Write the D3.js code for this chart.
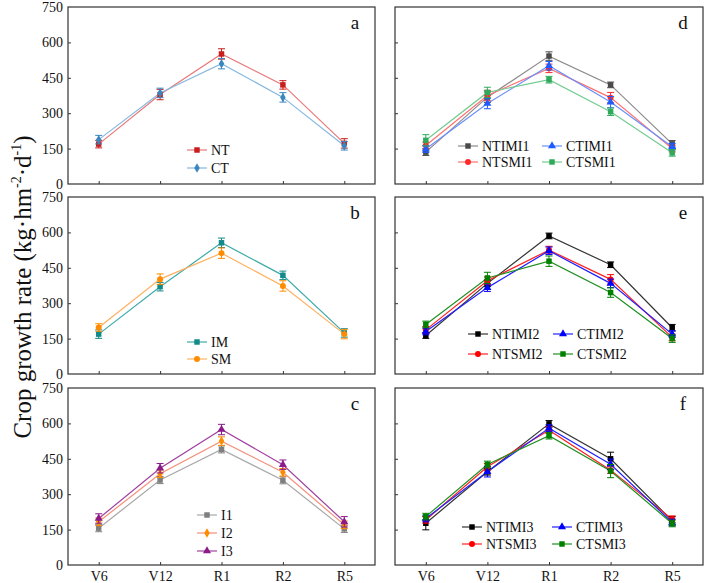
<!DOCTYPE html>
<html><head><meta charset="utf-8">
<script src="https://cdn.jsdelivr.net/npm/d3@7"></script>
<style>body{margin:0;background:#fff}svg{display:block}text{font-family:"Liberation Serif","Times New Roman",Times,"DejaVu Serif",serif}</style>
</head><body>
<svg id="c" width="705" height="583"></svg>
<script>
const stages = ["V6","V12","R1","R2","R5"];
const yTicks = [0,150,300,450,600,750];

// Panel a
const NT = [169,379,551,420,172], NT_err = [16,22,22,18,20];
const CT = [188,386,510,367,162], CT_err = [18,20,22,20,18];
// Panel b
const IM = [169,370,556,418,174], IM_err = [18,18,20,18,18];
const SM = [197,402,512,373,169], SM_err = [16,22,22,22,20];
// Panel c
const I1 = [156,360,490,359,153], I1_err = [15,15,15,15,15];
const I2 = [183,387,525,393,170], I2_err = [16,16,18,16,16];
const I3 = [197,410,574,425,183], I3_err = [20,20,22,20,22];
// Panel d
const NTIMI1 = [135,368,542,420,170], NTIMI1_err = [14,22,18,12,14];
const NTSMI1 = [163,375,490,366,150], NTSMI1_err = [14,22,18,22,14];
const CTIMI1 = [148,341,501,347,158], CTIMI1_err = [14,22,18,24,14];
const CTSMI1 = [185,388,442,306,132], CTSMI1_err = [24,22,14,16,14];
// Panel e
const NTIMI2 = [163,384,585,463,196], NTIMI2_err = [12,14,12,12,14];
const NTSMI2 = [187,395,525,401,155], NTSMI2_err = [14,16,16,20,14];
const CTIMI2 = [180,366,522,384,169], CTIMI2_err = [14,16,16,18,14];
const CTSMI2 = [210,407,478,345,150], CTSMI2_err = [14,24,22,20,16];
// Panel f
const NTIMI3 = [177,395,598,450,187], NTIMI3_err = [28,14,14,28,18];
const NTSMI3 = [191,416,571,402,194], NTSMI3_err = [14,14,14,14,14];
const CTIMI3 = [197,395,580,427,180], CTIMI3_err = [14,22,14,22,14];
const CTSMI3 = [205,426,548,398,176], CTSMI3_err = [14,14,14,28,14];

const panels = [
  {id:"a", x:68, y:7, w:307, showY:true, showX:false, legCols:1,
   series:[
    {name:"NT", v:NT, e:NT_err, mc:"#c81e1e", lc:"#e87878", sym:"square"},
    {name:"CT", v:CT, e:CT_err, mc:"#3a86c0", lc:"#86b8e0", sym:"diamond"}],
   leg:{x:187, y:150, dy:18}},
  {id:"b", x:68, y:197, w:307, showY:true, showX:false, legCols:1,
   series:[
    {name:"IM", v:IM, e:IM_err, mc:"#128a8a", lc:"#3eaaaa", sym:"square"},
    {name:"SM", v:SM, e:SM_err, mc:"#ff8c00", lc:"#ffb060", sym:"circle"}],
   leg:{x:187, y:342, dy:17}},
  {id:"c", x:68, y:388, w:307, showY:true, showX:true, legCols:1,
   series:[
    {name:"I1", v:I1, e:I1_err, mc:"#7f7f7f", lc:"#a8a8a8", sym:"square"},
    {name:"I2", v:I2, e:I2_err, mc:"#ff8c00", lc:"#f4907a", sym:"diamond"},
    {name:"I3", v:I3, e:I3_err, mc:"#8b1a8b", lc:"#a040a0", sym:"triangle"}],
   leg:{x:197, y:515, dy:18}},
  {id:"d", x:395, y:7, w:308, showY:false, showX:false, legCols:2,
   series:[
    {name:"NTIMI1", v:NTIMI1, e:NTIMI1_err, mc:"#4a4a4a", lc:"#8a8a8a", sym:"square"},
    {name:"NTSMI1", v:NTSMI1, e:NTSMI1_err, mc:"#ff2a2a", lc:"#ff7070", sym:"circle"},
    {name:"CTIMI1", v:CTIMI1, e:CTIMI1_err, mc:"#1f5cff", lc:"#6a90ff", sym:"triangle"},
    {name:"CTSMI1", v:CTSMI1, e:CTSMI1_err, mc:"#2eaa5a", lc:"#74cc92", sym:"square"}],
   leg:{x:458, y:146, dy:16, x2:542}},
  {id:"e", x:395, y:197, w:308, showY:false, showX:false, legCols:2,
   series:[
    {name:"NTIMI2", v:NTIMI2, e:NTIMI2_err, mc:"#000000", lc:"#333333", sym:"square"},
    {name:"NTSMI2", v:NTSMI2, e:NTSMI2_err, mc:"#ff0000", lc:"#ff2020", sym:"circle"},
    {name:"CTIMI2", v:CTIMI2, e:CTIMI2_err, mc:"#0000ff", lc:"#2020ff", sym:"triangle"},
    {name:"CTSMI2", v:CTSMI2, e:CTSMI2_err, mc:"#008000", lc:"#209020", sym:"square"}],
   leg:{x:468, y:334, dy:20, x2:553}},
  {id:"f", x:395, y:388, w:308, showY:false, showX:true, legCols:2,
   series:[
    {name:"NTIMI3", v:NTIMI3, e:NTIMI3_err, mc:"#000000", lc:"#333333", sym:"square"},
    {name:"NTSMI3", v:NTSMI3, e:NTSMI3_err, mc:"#ff0000", lc:"#ff2020", sym:"circle"},
    {name:"CTIMI3", v:CTIMI3, e:CTIMI3_err, mc:"#0000ff", lc:"#2020ff", sym:"triangle"},
    {name:"CTSMI3", v:CTSMI3, e:CTSMI3_err, mc:"#008000", lc:"#209020", sym:"square"}],
   leg:{x:462, y:527, dy:17, x2:552}}
];

const H = 177;
const FONT = "'Liberation Serif','Times New Roman',Times,'DejaVu Serif',serif";
const svg = d3.select("#c");
const symMap = {square:d3.symbolSquare, circle:d3.symbolCircle, diamond:d3.symbolDiamond, triangle:d3.symbolTriangle};
const symSize = {square:30, circle:28, diamond:26, triangle:28};
function symPath(s){ return d3.symbol().type(symMap[s]).size(symSize[s])(); }

panels.forEach(p => {
  const g = svg.append("g").attr("transform", `translate(${p.x},${p.y})`);
  const x = d3.scalePoint().domain(stages).range([0, p.w]).padding(0.5);
  const y = d3.scaleLinear().domain([0,750]).range([H,0]);

  g.append("rect").attr("x",0).attr("y",0).attr("width",p.w).attr("height",H)
    .attr("fill","none").attr("stroke","#333").attr("stroke-width",1.2);

  const yAx = d3.axisLeft(y).tickValues(yTicks).tickSizeInner(-3).tickSizeOuter(0).tickPadding(5);
  const yg = g.append("g").call(yAx);
  yg.attr("font-family", FONT);
  yg.select(".domain").remove();
  yg.selectAll("line").attr("stroke","#333");
  yg.selectAll("text").attr("font-size",14).attr("fill","#111").style("font-family", FONT);
  if(!p.showY) yg.selectAll("text").remove();
  yg.selectAll(".tick").filter(d => d===0 || d===750).select("line").remove();

  const xAx = d3.axisBottom(x).tickSizeInner(-3).tickSizeOuter(0).tickPadding(6);
  const xg = g.append("g").attr("transform",`translate(0,${H})`).call(xAx);
  xg.attr("font-family", FONT);
  xg.select(".domain").remove();
  xg.selectAll("line").attr("stroke","#333");
  xg.selectAll("text").attr("font-size",14).attr("fill","#111").style("font-family", FONT);
  if(!p.showX) xg.selectAll("text").remove();

  g.append("text").attr("x", p.w-20).attr("y", 22).attr("text-anchor","middle")
    .attr("font-size",19).attr("fill","#111").text(p.id);

  const line = d3.line().x((d,i)=>x(stages[i])).y(d=>y(d));
  p.series.forEach(s => {
    g.append("path").datum(s.v).attr("d", line).attr("fill","none")
      .attr("stroke", s.lc).attr("stroke-width",1.2);
  });
  p.series.forEach(s => {
    const eg = g.append("g");
    s.v.forEach((v,i) => {
      const cx = x(stages[i]), e = s.e[i];
      eg.append("line").attr("x1",cx).attr("x2",cx).attr("y1",y(v-e)).attr("y2",y(v+e))
        .attr("stroke",s.mc).attr("stroke-width",1);
      [v-e, v+e].forEach(t => eg.append("line").attr("x1",cx-3.5).attr("x2",cx+3.5)
        .attr("y1",y(t)).attr("y2",y(t)).attr("stroke",s.mc).attr("stroke-width",1));
      eg.append("path").attr("d", symPath(s.sym)).attr("transform",`translate(${cx},${y(v)})`)
        .attr("fill", s.mc);
    });
  });

  const L = p.leg;
  p.series.forEach((s, k) => {
    let lx, ly;
    if(p.legCols===1){ lx = L.x; ly = L.y + k*L.dy; }
    else { lx = (k<2) ? L.x : L.x2; ly = L.y + (k%2)*L.dy; }
    const lg = svg.append("g").attr("transform",`translate(${lx},${ly})`);
    lg.append("line").attr("x1",0).attr("x2",20).attr("y1",0).attr("y2",0)
      .attr("stroke",s.lc).attr("stroke-width",1.2);
    lg.append("path").attr("d",symPath(s.sym)).attr("transform","translate(10,0)").attr("fill",s.mc);
    lg.append("text").attr("x",24).attr("y",5).attr("font-size",14).attr("fill","#111").text(s.name);
  });
});

const yt = svg.append("text").attr("transform","translate(31,287) rotate(-90)")
  .attr("text-anchor","middle").attr("font-size",25).attr("fill","#111");
yt.append("tspan").text("Crop growth rate (kg·hm");
yt.append("tspan").attr("font-size",14).attr("dy",-10).text("-2");
yt.append("tspan").attr("dy",10).text("·d");
yt.append("tspan").attr("font-size",14).attr("dy",-10).text("-1");
yt.append("tspan").attr("dy",10).text(")");
</script>
</body></html>
